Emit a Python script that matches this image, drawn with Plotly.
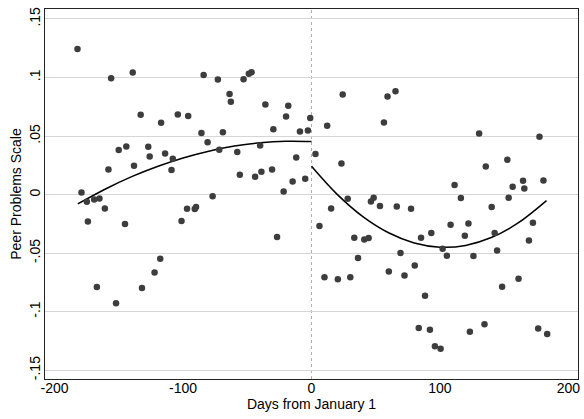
import plotly.graph_objects as go

# Days from January 1 (left of cutoff)
days_left = [-182.2, -156.0, -139.2, -133.0, -117.1, -104.1, -96.0, -150.1, -144.2, -127.1,
             -126.0, -114.0, -108.0, -109.0, -138.2, -158.1, -179.1, -174.9, -169.2, -165.1,
             -160.9, -174.1, -145.2, -101.2, -96.9, -90.9, -89.9, -167.1, -152.2, -132.0,
             -122.2, -117.8, -84.0, -72.9, -52.9, -48.8, -46.7, -63.8, -62.8, -35.9,
             -18.1, -19.8, -1.0, -85.7, -69.0, -29.7, -9.0, -2.8, -80.9, -71.8,
             -57.8, -40.0, -11.9, -55.8, -43.9, -39.0, -30.7, -14.7, -4.9, -21.7,
             -77.0, -26.8]
peer_left = [0.1244, 0.0994, 0.1042, 0.0681, 0.0613, 0.0683, 0.0672, 0.0380, 0.0410, 0.0408,
             0.0325, 0.0351, 0.0305, 0.0209, 0.0246, 0.0214, 0.0018, -0.0061, -0.0042, -0.0033,
             -0.0119, -0.0230, -0.0252, -0.0226, -0.0121, -0.0124, -0.0107, -0.0789, -0.0929, -0.0798,
             -0.0665, -0.0548, 0.1022, 0.0982, 0.0985, 0.1031, 0.1045, 0.0858, 0.0792, 0.0769,
             0.0758, 0.0666, 0.0655, 0.0527, 0.0533, 0.0559, 0.0538, 0.0547, 0.0448, 0.0382,
             0.0363, 0.0419, 0.0317, 0.0169, 0.0152, 0.0195, 0.0214, 0.0112, 0.0135, 0.0026,
             -0.0015, -0.0363]

# Days from January 1 (right of cutoff)
days_right = [3.1, 24.3, 59.2, 65.4, 12.2, 56.4, 23.3, 6.2, 15.3, 28.2,
              46.3, 48.4, 53.3, 66.4, 77.5, 33.3, 41.1, 44.5, 36.2, 10.1,
              20.5, 30.2, 60.2, 69.3, 72.4, 80.4, 85.3, 93.3, 88.4, 102.1,
              83.5, 92.2, 96.1, 100.5, 130.5, 177.5, 152.5, 135.7, 111.4, 156.6,
              164.7, 165.7, 180.6, 116.3, 153.5, 140.3, 108.3, 122.2, 119.4, 142.6,
              172.4, 169.3, 105.4, 126.1, 144.5, 161.2, 148.4, 134.7, 123.3, 176.5,
              183.5]
peer_right = [0.0346, 0.0854, 0.0837, 0.0883, 0.0587, 0.0615, 0.0265, -0.0269, -0.0119, -0.0036,
              -0.0059, -0.0027, -0.0098, -0.0102, -0.0121, -0.0369, -0.0383, -0.0371, -0.0542, -0.0707,
              -0.0724, -0.0707, -0.0656, -0.0499, -0.0690, -0.0605, -0.0369, -0.0328, -0.0863, -0.0462,
              -0.1139, -0.1154, -0.1296, -0.1316, 0.0521, 0.0493, 0.0297, 0.0240, 0.0081, 0.0067,
              0.0118, 0.0052, 0.0120, -0.0030, -0.0027, -0.0107, -0.0258, -0.0247, -0.0352, -0.0328,
              -0.0241, -0.0392, -0.0522, -0.0525, -0.0477, -0.0718, -0.0787, -0.1108, -0.1171, -0.1143,
              -0.1190]

# Quadratic fit lines
fit_days_left = [-182, -160, -140, -120, -100, -80, -60, -40, -20, 0]
fit_left = [-0.0080, 0.0050, 0.0153, 0.0240, 0.0313, 0.0371, 0.0414, 0.0442, 0.0455, 0.0453]
fit_days_right = [0, 20, 40, 60, 80, 100, 120, 140, 160, 183]
fit_right = [0.0242, 0.0002, -0.0188, -0.0326, -0.0413, -0.0449, -0.0434, -0.0367, -0.0249, -0.0051]

x_ticks = [-200, -100, 0, 100, 200]
x_tick_labels = ["-200", "-100", "0", "100", "200"]
y_ticks = [-0.15, -0.1, -0.05, 0, 0.05, 0.1, 0.15]
y_tick_labels = ["-.15", "-.1", "-.05", "0", ".05", ".1", ".15"]

FONT = "Liberation Sans, Arial, Helvetica, sans-serif"
DOT = "#3d3d3d"

fig = go.Figure()

for fx, fy in [(fit_days_left, fit_left), (fit_days_right, fit_right)]:
    fig.add_trace(go.Scatter(x=fx, y=fy, mode="lines", line_shape="spline",
                             line=dict(color="black", width=1.5), hoverinfo="skip",
                             showlegend=False))

fig.add_trace(go.Scatter(x=days_left + days_right, y=peer_left + peer_right, mode="markers",
                         marker=dict(color=DOT, size=6.5, line=dict(width=0)),
                         showlegend=False))

fig.add_vline(x=0, line=dict(color="#b0b0b0", width=1, dash="dot"), layer="below")

fig.update_layout(
    width=584, height=419,
    margin=dict(l=45, r=4, t=9, b=40),
    paper_bgcolor="white", plot_bgcolor="white",
    font=dict(family=FONT, size=14, color="black"),
    xaxis=dict(range=[-207.5, 207.5], tickvals=x_ticks, ticktext=x_tick_labels,
               showgrid=False, zeroline=False,
               showline=True, linecolor="#222222", linewidth=1, mirror=True,
               ticks="", tickfont=dict(size=14), ticklabelstandoff=-4,
               title=dict(text="Days from January 1", font=dict(size=14), standoff=2)),
    yaxis=dict(range=[-0.1575, 0.1585], tickvals=y_ticks, ticktext=y_tick_labels,
               tickangle=-90, showgrid=True, gridcolor="#d6d6d6", gridwidth=1,
               zeroline=False, showline=True, linecolor="#222222", linewidth=1, mirror=True,
               ticks="", tickfont=dict(size=14), ticklabelstandoff=-2,
               title=dict(text="Peer Problems Scale", font=dict(size=14), standoff=2)),
)

fig.write_html("out.html", config={"displayModeBar": False},
               post_script="document.body.style.margin='0';document.body.style.overflow='hidden';")
